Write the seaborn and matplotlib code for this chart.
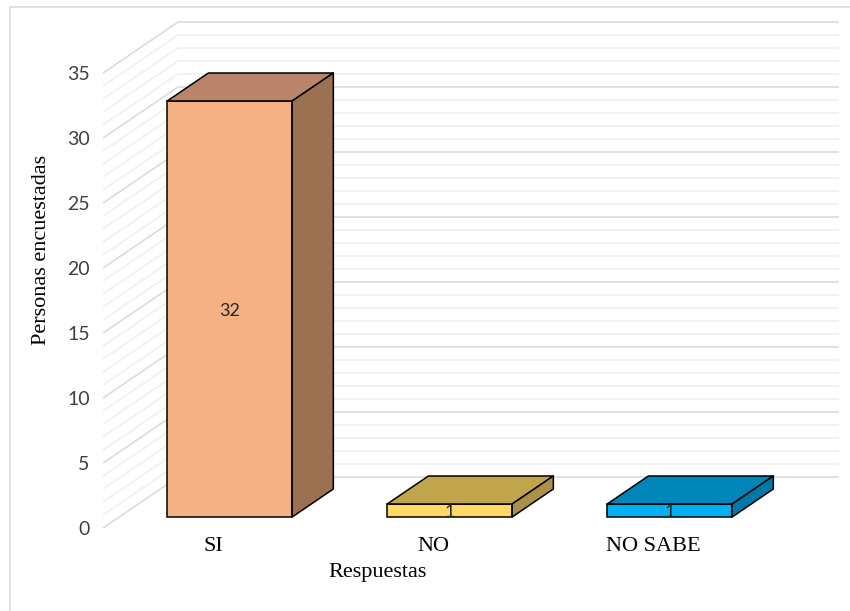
import matplotlib
matplotlib.use("Agg")
import matplotlib.pyplot as plt
import seaborn as sns
import pandas as pd
from matplotlib.patches import Polygon, Rectangle
from matplotlib.transforms import Affine2D

# ---------------- data ----------------
categories = ["SI", "NO", "NO SABE"]
values = [32, 1, 1]
front_colors = ["#F4B183", "#FFD966", "#00B0F0"]
top_colors = ["#B9846A", "#C1A54D", "#0086B8"]
side_colors = ["#9C7152", "#AA914A", "#0079A6"]
y_ticks = [0, 5, 10, 15, 20, 25, 30, 35]
y_max = 35
x_label = "Respuestas"
y_label = "Personas encuestadas"

# ---------------- style ----------------
sns.set_theme(style="white")
plt.rcParams["font.family"] = ["Liberation Serif", "DejaVu Serif"]
NUM_FONT = ["Lato", "DejaVu Sans"]

W, H = 850, 611
fig = plt.figure(figsize=(W / 100, H / 100), dpi=100)
fig.patch.set_facecolor("white")

# axes placement (pixels, top-origin)
px_left, px_right = 92.5, 840.5
py_top, py_bottom = 18.4, 534.5
ax = fig.add_axes([px_left / W, (H - py_bottom) / H,
                   (px_right - px_left) / W, (py_bottom - py_top) / H])
ax.set_facecolor("white")

# oblique depth vector (data units) and bar depth placement
Dx, Dy = 75 / 220, 51 / 13
d0, d1 = 11 / 51, 39 / 51
bar_w = 0.568

df = pd.DataFrame({"Respuesta": categories, "Personas": values})
sns.barplot(data=df, x="Respuesta", y="Personas", hue="Respuesta",
            palette=front_colors, width=bar_w, saturation=1,
            edgecolor="black", linewidth=1.1, legend=False, ax=ax, zorder=3)

off = Affine2D().translate(d0 * Dx, d0 * Dy)
ddx, ddy = (d1 - d0) * Dx, (d1 - d0) * Dy
for i, p in enumerate(list(ax.patches)):
    p.set_transform(off + ax.transData)
    x0 = p.get_x() + d0 * Dx
    x1 = x0 + p.get_width()
    yb = d0 * Dy
    yt = p.get_height() + d0 * Dy
    top = Polygon([(x0, yt), (x1, yt), (x1 + ddx, yt + ddy), (x0 + ddx, yt + ddy)],
                  closed=True, facecolor=top_colors[i], edgecolor="black",
                  linewidth=1.1, zorder=3, joinstyle="round")
    side = Polygon([(x1, yb), (x1 + ddx, yb + ddy), (x1 + ddx, yt + ddy), (x1, yt)],
                   closed=True, facecolor=side_colors[i], edgecolor="black",
                   linewidth=1.1, zorder=3, joinstyle="round")
    ax.add_patch(top)
    ax.add_patch(side)
    ax.text((x0 + x1) / 2, (yb + yt) / 2, str(values[i]), ha="center",
            va="center_baseline", fontsize=13, family=NUM_FONT,
            color="#262626", zorder=5)

# walls gridlines
xl, xr = -0.502, 2.502
for v in range(0, y_max + 1):
    c = "#d9d9d9" if v % 5 == 0 else "#eeeeee"
    ax.plot([xl + Dx, xr + Dx], [v + Dy, v + Dy], color=c, lw=1.1, zorder=1,
            solid_capstyle="butt")
    ax.plot([xl, xl + Dx], [v, v + Dy], color=c, lw=1.1, zorder=1,
            solid_capstyle="butt")

ax.set_xlim((px_left - 213.5) / 220, (px_right - 213.5) / 220)
ax.set_ylim(-0.5, 39.2)

ax.set_yticks(y_ticks)
ax.set_yticklabels([str(t) for t in y_ticks], family=NUM_FONT, fontsize=14,
                   color="#404040")
ax.set_xticks(range(len(categories)))
ax.set_xticklabels(categories, fontsize=16, color="black")
ax.tick_params(axis="both", length=0)
ax.tick_params(axis="y", pad=2)
ax.tick_params(axis="x", pad=1.8)
for s in ax.spines.values():
    s.set_visible(False)
ax.grid(False)

ax.set_xlabel(x_label, fontsize=16, color="black")
ax.xaxis.set_label_coords((378 - px_left) / (px_right - px_left),
                          (py_bottom - 573) / (py_bottom - py_top))
ax.xaxis.label.set_verticalalignment("center")
ax.set_ylabel(y_label, fontsize=16, color="black")
ax.yaxis.set_label_coords((42 - px_left) / (px_right - px_left),
                          (py_bottom - 250) / (py_bottom - py_top))
ax.yaxis.label.set_verticalalignment("center")

# chart area border
fig.patches.append(Rectangle((9.5 / W, -0.05), 1.2, (H - 6.5) / H + 0.05,
                             transform=fig.transFigure, fill=False,
                             edgecolor="#d9d9d9", linewidth=1.1, zorder=0))

fig.savefig("out.png", dpi=100, facecolor="white")
